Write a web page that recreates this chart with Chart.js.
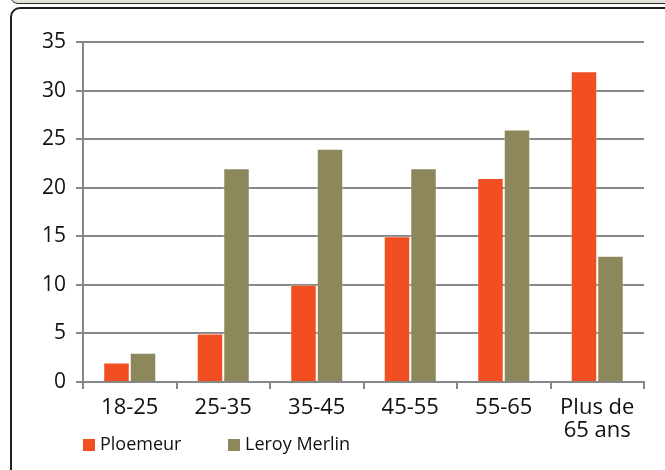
<!DOCTYPE html>
<html>
<head>
<meta charset="utf-8">
<script src="https://cdn.jsdelivr.net/npm/chart.js"></script>
<style>
  html, body { margin: 0; padding: 0; background: #fff; overflow: hidden; }
  .strip { position: absolute; left: 10px; top: -12px; width: 700px; height: 14px; background: #e3e3da; border: 1.5px solid #2a2a2a; border-radius: 9px; }
  .frame { position: absolute; left: 10px; top: 7px; width: 700px; height: 520px; border: 2px solid #1e1e1e; border-radius: 10px; }
  #wrap { position: absolute; left: 0; top: 0; width: 665px; height: 470px; }
</style>
</head>
<body>
<div class="strip"></div>
<div class="frame"></div>
<div id="wrap"><canvas id="barChart"></canvas></div>
<script>
  const ageGroups = ['18-25', '25-35', '35-45', '45-55', '55-65', ['Plus de', '65 ans']];
  const ploemeur = [2, 5, 10, 15, 21, 32];
  const leroyMerlin = [3, 22, 24, 22, 26, 13];
  const yMax = 35;
  const yStep = 5;

  const gridGrey = '#878787';
  const font = 'Open Sans';

  // legend drawn by hand so it can sit left under the axis, like the original
  const leftLegend = {
    id: 'leftLegend',
    afterDraw(chart) {
      const ctx = chart.ctx;
      const xs = [83, 228];
      ctx.save();
      ctx.font = '18px "' + font + '"';
      ctx.textBaseline = 'middle';
      chart.data.datasets.forEach((ds, i) => {
        ctx.fillStyle = ds.backgroundColor;
        ctx.fillRect(xs[i], 439, 12, 12);
        ctx.fillStyle = '#111';
        ctx.fillText(ds.label, xs[i] + 17, 445);
      });
      ctx.restore();
    }
  };

  new Chart(document.getElementById('barChart'), {
    type: 'bar',
    data: {
      labels: ageGroups,
      datasets: [
        {
          label: 'Ploemeur',
          data: ploemeur,
          backgroundColor: '#f14f22',
          borderColor: 'rgba(255,255,255,0.35)',
          borderWidth: 1
        },
        {
          label: 'Leroy Merlin',
          data: leroyMerlin,
          backgroundColor: '#8c885c',
          borderColor: 'rgba(255,255,255,0.35)',
          borderWidth: 1
        }
      ]
    },
    options: {
      responsive: true,
      maintainAspectRatio: false,
      animation: false,
      categoryPercentage: 0.567,
      barPercentage: 1,
      layout: { padding: { top: 42, right: 21, left: 0, bottom: 0 } },
      scales: {
        x: {
          grid: {
            display: true,
            drawOnChartArea: false,
            offset: true,
            color: gridGrey,
            lineWidth: 2,
            tickLength: 7
          },
          border: { color: gridGrey, width: 2 },
          ticks: {
            color: '#111',
            padding: 7,
            maxRotation: 0,
            font: { family: font, size: 22, lineHeight: 1.05 }
          },
          afterFit(scale) { scale.height = 88; }
        },
        y: {
          min: 0,
          max: yMax,
          grid: { color: gridGrey, lineWidth: 2, tickLength: 7 },
          border: { color: gridGrey, width: 2 },
          ticks: {
            stepSize: yStep,
            color: '#111',
            padding: 10,
            font: { family: font, size: 21 }
          },
          afterFit(scale) { scale.width = 83; }
        }
      },
      plugins: {
        legend: { display: false },
        tooltip: { enabled: false }
      }
    },
    plugins: [leftLegend]
  });
</script>
</body>
</html>
